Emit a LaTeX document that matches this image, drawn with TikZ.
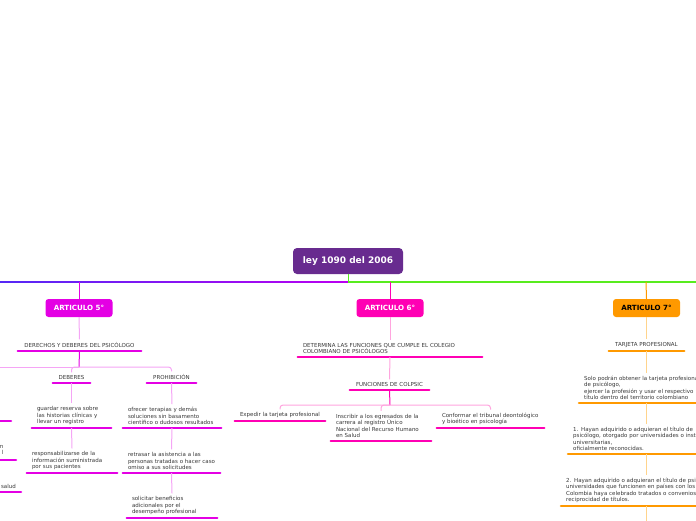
\documentclass[tikz,border=0pt]{standalone}
\usepackage{fontspec}
\setmainfont{DejaVu Sans}
\usetikzlibrary{positioning}
\definecolor{rootc}{RGB}{104,43,143}
\definecolor{busl}{RGB}{85,40,245}
\definecolor{busr}{RGB}{185,0,240}
\definecolor{busg}{RGB}{88,236,30}
\definecolor{magA}{RGB}{228,0,228}
\definecolor{magL}{RGB}{245,165,245}
\definecolor{pinkA}{RGB}{255,0,180}
\definecolor{pinkL}{RGB}{255,165,222}
\definecolor{orA}{RGB}{255,153,0}
\definecolor{orL}{RGB}{255,212,140}
\definecolor{txtc}{RGB}{55,55,55}

\begin{document}
\begin{tikzpicture}[x=1pt,y=-1pt,
	txt/.style={font=\fontsize{5.5}{6.5}\selectfont, text=txtc, inner xsep=5pt, inner ysep=3pt},
	topic/.style={txt, anchor=south, align=left,
		append after command={(\tikzlastnode.south west) edge[line width=2.6pt, line cap=round, draw=#1] (\tikzlastnode.south east)}},
	topic/.default=magA,
	artbox/.style={rounded corners=3pt, minimum width=67pt, minimum height=18pt, inner sep=0pt,
		font=\fontsize{7.1}{8}\selectfont\bfseries, text=white},
	link/.style={line width=1pt, draw=#1},
	fork/.style={line width=1pt, draw=#1, rounded corners=3pt}]
	\useasboundingbox (0,0) rectangle (696,520);
	\clip (0,0) rectangle (696,520);

	\node[fill=rootc, text=white, rounded corners=4pt, minimum width=110pt, minimum height=26pt,
		font=\fontsize{9}{10}\selectfont\bfseries] (root) at (348,261) {ley 1090 del 2006};
	\coordinate (bus) at (348,282);
	\coordinate (bus5) at (79,282);
	\coordinate (bus6) at (390,282);
	\coordinate (bus7) at (646,282);
	\shade[left color=busl, right color=busr] (0,281) rectangle (bus);
	\draw[line width=2.2pt, busg] (bus) -- (696,282);
	\draw[line width=1pt, busg] (root.south) -- (bus);

	\node[artbox, fill=magA] (art5) at (79,308) {ARTICULO 5°};
	\node[artbox, fill=pinkA] (art6) at (390,308) {ARTICULO 6°};
	\node[artbox, fill=orA, text=black] (art7) at (646.5,308) {ARTICULO 7°};
	\draw[link=magA] (bus5) -- (art5.north);
	\draw[link=pinkA] (bus6) -- (art6.north);
	\draw[link=orA] (bus7) -- (art7.north);

	\node[topic=magA, align=center, minimum width=123pt] (t5) at (79.5,351) {DERECHOS Y DEBERES DEL PSICÓLOGO};
	\node[topic=magA, align=center, minimum width=37pt] (deb) at (71.5,383) {DEBERES};
	\node[topic=magA, align=center, minimum width=49pt] (pro) at (171.5,383) {PROHIBICIÓN};
	\node[topic=magA, text width=69pt] (deb1) at (71.5,428) {guardar reserva sobre\\las historias clínicas y\\llevar un registro};
	\node[topic=magA, text width=80pt] (deb2) at (72,473) {responsabilizarse de la\\información suministrada\\por sus pacientes};
	\node[topic=magA, text width=88pt] (pro1) at (172,428) {ofrecer terapias y demás\\soluciones sin basamento\\científico o dudosos resultados};
	\node[topic=magA, text width=87pt] (pro2) at (171.5,473) {retrasar la asistencia a las\\personas tratadas o hacer caso\\omiso a sus solicitudes};
	\node[topic=magA, text width=80pt] (pro3) at (172,518) {solicitar beneficios\\adicionales por el\\desempeño profesional};
	\node[topic=magA, anchor=south east, minimum width=60pt] (g1) at (11,421) {};
	\node[txt, anchor=east, align=right, inner xsep=0pt] (g2) at (3.5,450) {n\\l};
	\draw[line width=2.6pt, line cap=round, magA] (-40,460) -- (16,460);
	\node[topic=magA, anchor=south east, text width=50pt, align=right] (g3) at (21,492) {salud};
	\coordinate (fork5) at (79,367);
	\draw[link=magL] (art5.south) -- (t5.north);
	\draw[link=magA] (t5.south) -- (fork5);
	\draw[fork=magL] (fork5) -| (deb.north);
	\draw[fork=magL] (fork5) -| (pro.north);
	\draw[fork=magL] (fork5) -- (-20,367);
	\draw[link=magL] (deb.south) -- (deb1.north);
	\draw[link=magL] (deb1.south) -- (deb2.north);
	\draw[link=magL] (pro.south) -- (pro1.north);
	\draw[link=magL] (pro1.south) -- (pro2.north);
	\draw[link=magL] (pro2.south) -- (pro3.north);

	\node[topic=pinkA, text width=174pt] (t6) at (390,357) {DETERMINA LAS FUNCIONES QUE CUMPLE EL COLEGIO\\COLOMBIANO DE PSICÓLOGOS};
	\node[topic=pinkA, align=center, minimum width=79pt] (fun) at (389.5,390) {FUNCIONES DE COLPSIC};
	\node[topic=pinkA, text width=80pt] (f1) at (280,421) {Expedir la tarjeta profesional};
	\node[topic=pinkA, text width=90pt] (f2) at (381,441) {Inscribir a los egresados de la\\carrera al registro Único\\Nacional del Recurso Humano\\en Salud};
	\node[topic=pinkA, text width=97pt] (f3) at (490.5,428) {Conformar el tribunal deontológico\\y bioético en psicología};
	\coordinate (fork6) at (390,405);
	\draw[link=pinkL] (art6.south) -- (t6.north);
	\draw[link=pinkL] (t6.south) -- (fun.north);
	\draw[link=pinkA] (fun.south) -- (fork6);
	\draw[fork=pinkL] (fork6) -| (f1.north);
	\draw[fork=pinkL] (fork6) -| (f2.north);
	\draw[fork=pinkL] (fork6) -| (f3.north);

	\node[topic=orA, align=center, minimum width=75pt] (t7) at (646.5,351) {TARJETA PROFESIONAL};
	\node[topic=orA, anchor=south west, text width=190pt] (s1) at (579,403) {Solo podrán obtener la tarjeta profesional\\de psicólogo,\\ejercer la profesión y usar el respectivo\\título dentro del territorio colombiano};
	\node[topic=orA, anchor=south west, text width=190pt] (s2) at (568,454) {1. Hayan adquirido o adquieran el título de\\psicólogo, otorgado por universidades o instituciones\\universitarias,\\oficialmente reconocidas.};
	\node[topic=orA, anchor=south west, text width=190pt] (s3) at (561,506) {2. Hayan adquirido o adquieran el título de psicólogo en\\universidades que funcionen en países con los que\\Colombia haya celebrado tratados o convenios sobre\\reciprocidad de títulos.};
	\draw[link=orL] (art7.south) -- (t7.north);
	\draw[link=orL] (t7.south) -- (s1.north -| t7.south);
	\draw[link=orL] (s1.south -| t7.south) -- (s2.north -| t7.south);
	\draw[link=orL] (s2.south -| t7.south) -- (s3.north -| t7.south);
	\draw[link=orL] (s3.south -| t7.south) -- ++(0,20);
\end{tikzpicture}
\end{document}
